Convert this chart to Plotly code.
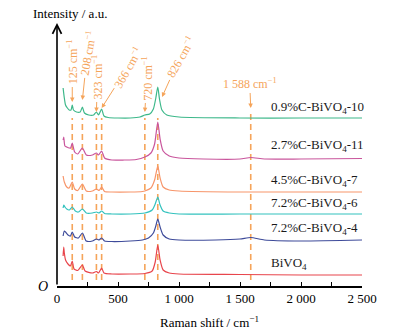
import plotly.graph_objects as go

# ---------------- data ----------------
x_green = [50, 60, 70, 85, 100, 115, 125, 135, 160, 190, 208, 225, 260, 300, 323, 340, 366, 385, 420, 500, 600, 680, 720, 760, 790, 810, 826, 840, 860, 900, 1000, 1500, 2000, 2500]
y_green = [198, 188, 181, 178, 176, 176, 181, 176, 174, 174, 179, 173, 171, 171, 174, 171, 177, 170, 168.5, 168, 168, 169, 171, 172, 177, 188, 199, 187, 176, 171, 169, 168, 168, 168]

x_pink = [50, 55, 65, 80, 100, 112, 125, 145, 170, 208, 240, 290, 323, 340, 366, 390, 450, 550, 650, 720, 770, 800, 826, 845, 870, 920, 1000, 1200, 1500, 1588, 1700, 2000, 2500]
y_pink = [146, 149, 140, 139, 138, 138, 143, 134, 132, 138, 131, 131, 133, 131, 135, 128, 126, 126, 126.5, 129, 133, 142, 164, 147, 135, 130, 128, 127, 127, 128.5, 127, 127, 127.5]

x_orange = [50, 60, 80, 100, 125, 145, 170, 208, 240, 290, 323, 345, 366, 390, 450, 600, 700, 720, 770, 800, 826, 845, 870, 920, 1000, 1500, 2500]
y_orange = [110, 104, 99, 98, 104, 97, 95.5, 102, 95, 95, 97, 95.5, 99, 94.5, 94, 94, 94.5, 95, 98, 106, 120, 108, 99, 96, 95, 94, 94]

x_cyan = [50, 55, 65, 80, 100, 125, 150, 175, 208, 240, 290, 323, 345, 366, 390, 450, 600, 720, 780, 805, 826, 845, 870, 920, 1000, 1500, 2500]
y_cyan = [78, 81, 79, 77, 76, 79, 75, 74, 77, 73, 73, 74, 73, 75, 72.5, 72, 72, 73, 76, 82, 89, 81, 75, 73, 72, 72, 72]

x_blue = [50, 60, 70, 90, 110, 125, 145, 175, 208, 240, 290, 323, 345, 366, 390, 450, 600, 700, 750, 790, 810, 826, 845, 870, 920, 1000, 1300, 1500, 1588, 1700, 2000, 2500]
y_blue = [50, 55, 54, 51, 50, 54, 49, 48, 53, 45, 45, 47, 46, 48, 45, 44.5, 45, 46, 48, 53, 60, 67, 59, 51, 47, 46, 46, 47, 48.5, 46, 45, 46]

x_red = [50, 55, 60, 70, 90, 110, 125, 140, 170, 208, 230, 290, 323, 340, 366, 385, 450, 600, 720, 780, 805, 826, 845, 870, 920, 1000, 1500, 2000, 2500]
y_red = [30, 39, 33, 26, 22, 20, 25, 17, 15.5, 21, 15, 13, 14.5, 13, 18, 13, 12, 12, 12.5, 15, 24, 41, 26, 16, 13, 12, 11.5, 11, 11]

series_names = ["0.9%C-BiVO<sub>4</sub>-10", "2.7%C-BiVO<sub>4</sub>-11", "4.5%C-BiVO<sub>4</sub>-7",
                "7.2%C-BiVO<sub>4</sub>-6", "7.2%C-BiVO<sub>4</sub>-4", "BiVO<sub>4</sub>"]
label_y = [179, 141, 106, 83, 58, 23]
label_x = 1738

peak_positions = [125, 208, 323, 366, 720, 826, 1588]
peak_labels = ["125 cm<sup>−1</sup>", "208 cm<sup>−1</sup>", "323 cm<sup>−1</sup>", "366 cm<sup>−1</sup>",
               "720 cm<sup>−1</sup>", "826 cm<sup>−1</sup>", "1 588 cm<sup>−1</sup>"]
dash_bottom = 6
dash_top = [168, 168, 168, 168, 168, 168, 173]

tick_vals = [0, 500, 1000, 1500, 2000, 2500]
tick_text = ["0", "500", "1 000", "1 500", "2 000", "2 500"]

# ---------------- styles ----------------
colors = ["#3DB88A", "#C9559C", "#F7956A", "#33C2BE", "#3E4B9A", "#E8454C"]
ann_color = "#F5A45A"
FONT = "Liberation Serif"
W, H = 418, 333
ML, MR, MT, MB = 57, 56, 24, 47
PW, PH = W - ML - MR, H - MT - MB


def px_to_paper(px, py):
    return (px - ML) / PW, (H - MB - py) / PH


fig = go.Figure()

# dashed guide lines
for p, top in zip(peak_positions, dash_top):
    fig.add_trace(go.Scatter(x=[p, p], y=[dash_bottom, top], mode="lines",
                             line=dict(color=ann_color, width=1.6, dash="6px,4px"),
                             hoverinfo="skip", showlegend=False))

xs = [x_green, x_pink, x_orange, x_cyan, x_blue, x_red]
ys = [y_green, y_pink, y_orange, y_cyan, y_blue, y_red]
for xv, yv, c, n in zip(xs, ys, colors, series_names):
    fig.add_trace(go.Scatter(x=xv, y=yv, mode="lines", name=n,
                             line=dict(color=c, width=1.2, shape="spline", smoothing=0.6),
                             showlegend=False))

annotations = []
# sample labels
for n, ly in zip(series_names, label_y):
    annotations.append(dict(x=label_x, y=ly, xref="x", yref="y", text=n, showarrow=False,
                            xanchor="left", yanchor="middle",
                            font=dict(family=FONT, size=13, color="#1a1a1a")))

# peak annotations: (head y, ax, ay, angle)
peak_ann = [
    (184, 0, -40, -90),
    (186, 5, -47, -80),
    (174, 1, -35, -90),
    (178, 26, -41, -60),
    (174, 2, -34, -90),
    (189, 18, -40, -60),
    (178, -1, -25, 0),
]
head_x = [125, 208, 323, 366, 720, 861, 1588]
for hx, lab, (hy, ax, ay, ang) in zip(head_x, peak_labels, peak_ann):
    annotations.append(dict(x=hx, y=hy, xref="x", yref="y", text=lab, showarrow=True,
                            ax=ax, ay=ay, textangle=ang, arrowhead=2, arrowsize=0.9,
                            arrowwidth=1, arrowcolor=ann_color, standoff=0, startstandoff=1,
                            font=dict(family=FONT, size=12, color=ann_color)))

# y axis with arrow
annotations.append(dict(x=0, y=263, xref="x", yref="y", ax=0, ay=0, axref="x", ayref="y",
                        text="", showarrow=True, arrowhead=5, arrowsize=1.1, arrowwidth=1.6,
                        arrowcolor="black"))
ix, iy = px_to_paper(70, 13)
annotations.append(dict(x=ix, y=iy, xref="paper", yref="paper", text="Intensity / a.u.",
                        showarrow=False, xanchor="center", yanchor="middle",
                        font=dict(family=FONT, size=13, color="black")))
ox, oy = px_to_paper(50, 286)
annotations.append(dict(x=ox, y=oy, xref="paper", yref="paper", text="<i>O</i>", showarrow=False,
                        xanchor="right", yanchor="middle",
                        font=dict(family=FONT, size=14, color="black")))

fig.update_layout(
    width=W, height=H,
    margin=dict(l=ML, r=MR, t=MT, b=MB, autoexpand=False),
    paper_bgcolor="white", plot_bgcolor="white",
    font=dict(family=FONT, size=13, color="black"),
    xaxis=dict(range=[0, 2500], showgrid=False, zeroline=False, showline=True,
               linecolor="black", linewidth=1.5, ticks="inside", ticklen=4, tickwidth=1,
               tickcolor="black", tickvals=tick_vals, ticktext=tick_text,
               minor=dict(ticks="inside", dtick=250, ticklen=4, tickwidth=1, tickcolor="black"),
               tickfont=dict(family=FONT, size=13),
               title=dict(text="Raman shift / cm<sup>−1</sup>", standoff=13,
                          font=dict(family=FONT, size=13))),
    yaxis=dict(range=[0, 262], showgrid=False, zeroline=False, showline=False,
               showticklabels=False, ticks=""),
    annotations=annotations,
)

fig.write_html("out.html", config={"displayModeBar": False},
               post_script="document.body.style.margin='0';document.body.style.padding='0';")
